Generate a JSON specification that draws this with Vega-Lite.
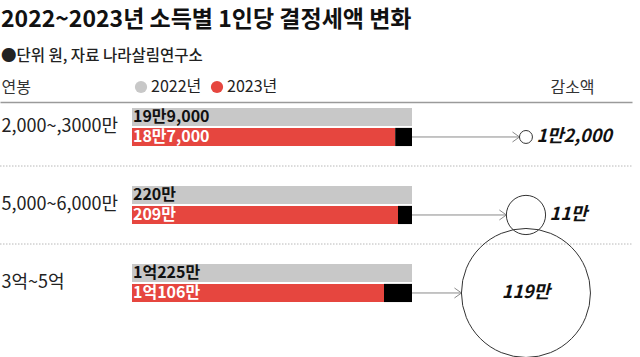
{
  "$schema": "https://vega.github.io/schema/vega-lite/v6.json",
  "width": 632,
  "height": 234,
  "autosize": {"type": "none"},
  "padding": {"top": 88, "left": 0, "right": 8, "bottom": 35},
  "background": "#ffffff",
  "config": {"view": {"stroke": null}, "font": "Noto Sans CJK KR"},
  "title": {
    "text": "2022~2023년 소득별 1인당 결정세액 변화",
    "subtitle": "●단위 원, 자료 나라살림연구소",
    "anchor": "start",
    "frame": "group",
    "font": "Noto Sans CJK KR",
    "fontSize": 23,
    "fontWeight": "bold",
    "color": "#111111",
    "subtitleFont": "Noto Sans CJK KR",
    "subtitleFontSize": 15.5,
    "subtitleFontWeight": 500,
    "subtitleColor": "#222222",
    "subtitlePadding": 17,
    "offset": 15,
    "dx": 1
  },
  "datasets": {
    "bars": [
      {"group": "2,000~,3000만", "year": "2022년", "amount": 199000, "label": "19만9,000", "barLength": 100},
      {"group": "2,000~,3000만", "year": "2023년", "amount": 187000, "label": "18만7,000", "barLength": 94},
      {"group": "5,000~6,000만", "year": "2022년", "amount": 2200000, "label": "220만", "barLength": 100},
      {"group": "5,000~6,000만", "year": "2023년", "amount": 2090000, "label": "209만", "barLength": 95},
      {"group": "3억~5억", "year": "2022년", "amount": 102250000, "label": "1억225만", "barLength": 100},
      {"group": "3억~5억", "year": "2023년", "amount": 101060000, "label": "1억106만", "barLength": 90}
    ],
    "changes": [
      {"group": "2,000~,3000만", "year": "2023년", "reduction": 12000, "reductionLabel": "1만2,000"},
      {"group": "5,000~6,000만", "year": "2023년", "reduction": 110000, "reductionLabel": "11만"},
      {"group": "3억~5억", "year": "2023년", "reduction": 1190000, "reductionLabel": "119만"}
    ]
  },
  "layer": [
    {
      "data": {"name": "changes"},
      "transform": [{"filter": "datum.group !== '2,000~,3000만'"}],
      "mark": {"type": "rule", "stroke": "#b8b8b8", "strokeDash": [1.5, 1.5], "strokeWidth": 1},
      "encoding": {
        "y": {"field": "group", "type": "nominal", "sort": ["2,000~,3000만", "5,000~6,000만", "3억~5억"], "bandPosition": 0},
        "x": {"datum": -47.14, "type": "quantitative"},
        "x2": {"datum": 178.57}
      }
    },
    {
      "data": {"name": "bars"},
      "mark": {"type": "bar"},
      "encoding": {
        "y": {
          "field": "group", "type": "nominal",
          "sort": ["2,000~,3000만", "5,000~6,000만", "3억~5억"],
          "scale": {"paddingInner": 0, "paddingOuter": 0},
          "axis": {
            "title": "연봉", "titleAngle": 0, "titleAlign": "left", "titleBaseline": "middle",
            "titleX": 1, "titleY": -1, "titleFontSize": 16, "titleFontWeight": "normal", "titleColor": "#333333",
            "titleFont": "Noto Sans CJK KR",
            "labelAlign": "left", "labelBaseline": "middle", "labelPadding": -1, "labelFontSize": 18,
            "labelColor": "#222222", "labelFont": "Noto Sans CJK KR",
            "domain": false, "ticks": false, "tickSize": 0, "grid": false
          }
        },
        "yOffset": {"field": "year", "type": "nominal", "scale": {"paddingInner": 0.09, "paddingOuter": 1.25}},
        "x": {
          "field": "barLength", "type": "quantitative",
          "scale": {"domain": [-47.14, 178.57], "nice": false, "zero": false},
          "axis": {
            "orient": "top", "offset": -14, "domain": true, "domainColor": "#9a9a9a", "domainWidth": 1.5,
            "ticks": false, "labels": false, "grid": false,
            "title": "감소액", "titleX": 572, "titleY": -15, "titleAlign": "center", "titleBaseline": "middle",
            "titleFontSize": 16, "titleFontWeight": "normal", "titleColor": "#333333", "titleFont": "Noto Sans CJK KR"
          }
        },
        "x2": {"datum": 0},
        "color": {
          "field": "year", "type": "nominal",
          "scale": {"domain": ["2022년", "2023년"], "range": ["#c8c8c8", "#e6463f"]},
          "legend": {
            "orient": "none", "legendX": 133, "legendY": -9, "direction": "horizontal", "title": null,
            "symbolType": "circle", "symbolSize": 150, "symbolStrokeWidth": 0,
            "labelFontSize": 16, "labelOffset": 2, "columnPadding": 7, "labelColor": "#222222",
            "labelFont": "Noto Sans CJK KR"
          }
        }
      }
    },
    {
      "data": {"name": "bars"},
      "transform": [{"filter": "datum.year === '2023년'"}],
      "mark": {"type": "bar", "color": "#000000"},
      "encoding": {
        "y": {"field": "group", "type": "nominal", "sort": ["2,000~,3000만", "5,000~6,000만", "3억~5억"]},
        "yOffset": {"field": "year", "type": "nominal"},
        "x": {"field": "barLength", "type": "quantitative"},
        "x2": {"datum": 100}
      }
    },
    {
      "data": {"name": "bars"},
      "transform": [{"filter": "datum.year === '2022년'"}],
      "mark": {"type": "text", "align": "left", "baseline": "middle", "dx": 1, "fontSize": 16, "fontWeight": "bold", "color": "#111111"},
      "encoding": {
        "y": {"field": "group", "type": "nominal", "sort": ["2,000~,3000만", "5,000~6,000만", "3억~5억"]},
        "yOffset": {"field": "year", "type": "nominal"},
        "x": {"datum": 0, "type": "quantitative"},
        "text": {"field": "label", "type": "nominal"}
      }
    },
    {
      "data": {"name": "bars"},
      "transform": [{"filter": "datum.year === '2023년'"}],
      "mark": {"type": "text", "align": "left", "baseline": "middle", "dx": 1, "fontSize": 16, "fontWeight": "bold", "color": "#ffffff"},
      "encoding": {
        "y": {"field": "group", "type": "nominal", "sort": ["2,000~,3000만", "5,000~6,000만", "3억~5억"]},
        "yOffset": {"field": "year", "type": "nominal"},
        "x": {"datum": 0, "type": "quantitative"},
        "text": {"field": "label", "type": "nominal"}
      }
    },
    {
      "data": {"name": "changes"},
      "transform": [
        {"calculate": "sqrt(datum.reduction / 1190000 * 16641) / 2", "as": "r"},
        {"calculate": "140.7 - datum.r / 2.8", "as": "tip"}
      ],
      "mark": {"type": "rule", "stroke": "#8a8a8a", "strokeWidth": 1},
      "encoding": {
        "y": {"field": "group", "type": "nominal", "sort": ["2,000~,3000만", "5,000~6,000만", "3억~5억"]},
        "yOffset": {"field": "year", "type": "nominal"},
        "x": {"field": "tip", "type": "quantitative"},
        "x2": {"datum": 100}
      }
    },
    {
      "data": {"name": "changes"},
      "transform": [
        {"calculate": "sqrt(datum.reduction / 1190000 * 16641) / 2", "as": "r"},
        {"calculate": "140.7 - datum.r / 2.8", "as": "tip"}
      ],
      "mark": {"type": "point", "shape": "M-1.4,-1L0,0L-1.4,1", "size": 100, "filled": false, "stroke": "#8a8a8a", "strokeWidth": 1, "opacity": 1},
      "encoding": {
        "y": {"field": "group", "type": "nominal", "sort": ["2,000~,3000만", "5,000~6,000만", "3억~5억"]},
        "yOffset": {"field": "year", "type": "nominal"},
        "x": {"field": "tip", "type": "quantitative"}
      }
    },
    {
      "data": {"name": "changes"},
      "transform": [{"calculate": "140.7", "as": "cx"}],
      "mark": {"type": "point", "shape": "circle", "filled": false, "stroke": "#333333", "strokeWidth": 1, "opacity": 1},
      "encoding": {
        "y": {"field": "group", "type": "nominal", "sort": ["2,000~,3000만", "5,000~6,000만", "3억~5억"]},
        "yOffset": {"field": "year", "type": "nominal"},
        "x": {"field": "cx", "type": "quantitative"},
        "size": {"field": "reduction", "type": "quantitative", "scale": {"domain": [0, 1190000], "range": [0, 16641], "zero": true}, "legend": null}
      }
    },
    {
      "data": {"name": "changes"},
      "transform": [
        {"filter": "datum.reduction < 500000"},
        {"calculate": "sqrt(datum.reduction / 1190000 * 16641) / 2", "as": "r"},
        {"calculate": "140.7 + (datum.r + 4) / 2.8", "as": "labelX"}
      ],
      "mark": {"type": "text", "align": "left", "baseline": "middle", "fontSize": 18, "fontWeight": "bold", "fontStyle": "italic", "color": "#111111", "letterSpacing": -0.3},
      "encoding": {
        "y": {"field": "group", "type": "nominal", "sort": ["2,000~,3000만", "5,000~6,000만", "3억~5억"]},
        "yOffset": {"field": "year", "type": "nominal"},
        "x": {"field": "labelX", "type": "quantitative"},
        "text": {"field": "reductionLabel", "type": "nominal"}
      }
    },
    {
      "data": {"name": "changes"},
      "transform": [
        {"filter": "datum.reduction >= 500000"},
        {"calculate": "140.7", "as": "cx"}
      ],
      "mark": {"type": "text", "align": "center", "baseline": "middle", "fontSize": 18, "fontWeight": "bold", "fontStyle": "italic", "color": "#111111", "letterSpacing": -0.3},
      "encoding": {
        "y": {"field": "group", "type": "nominal", "sort": ["2,000~,3000만", "5,000~6,000만", "3억~5억"]},
        "yOffset": {"field": "year", "type": "nominal"},
        "x": {"field": "cx", "type": "quantitative"},
        "text": {"field": "reductionLabel", "type": "nominal"}
      }
    }
  ]
}
